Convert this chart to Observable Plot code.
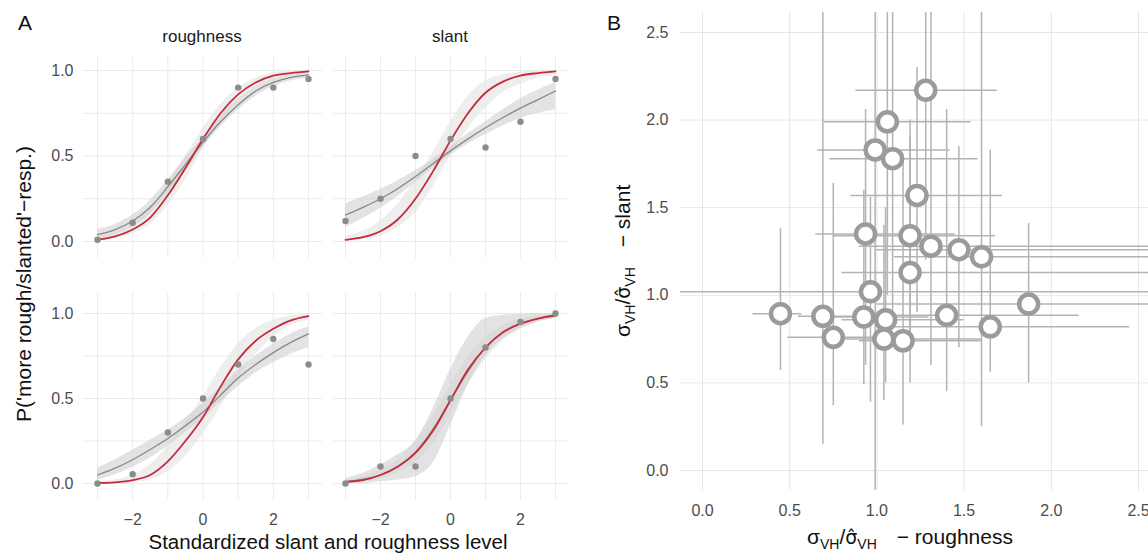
<!DOCTYPE html>
<html><head><meta charset="utf-8">
<script src="https://cdn.jsdelivr.net/npm/d3@7"></script>
<script src="https://cdn.jsdelivr.net/npm/@observablehq/plot@0.6"></script>
<style>
html,body{margin:0;padding:0;background:#fff;overflow:hidden;}
#root{position:relative;width:1148px;height:554px;}
#root svg{position:absolute;left:0;top:0;}
</style></head><body><div id="root"></div>
<script>
// ---------- Panel A data ----------
const curveX = [-3,-2.5,-2,-1.5,-1,-0.5,0,0.5,1,1.5,2,2.5,3];
const levels = [-3,-2,-1,0,1,2,3];
const xTicksA = [-2,0,2];
const xGridA = [-3,-2,-1,0,1,2,3];
const yTicksA = [0,0.5,1];
const yGridA = [0,0.25,0.5,0.75,1];
const facetLabels = ["roughness","slant"];

// top-left: roughness, row 1
const obsR1 = [0.01,0.11,0.35,0.60,0.90,0.90,0.95];
const redR1 = [0.01,0.03,0.07,0.14,0.27,0.43,0.60,0.75,0.86,0.93,0.97,0.985,0.995];
const grayR1 = [0.04,0.07,0.12,0.20,0.32,0.45,0.58,0.70,0.80,0.88,0.93,0.96,0.975];
const grayLoR1 = [0.015,0.04,0.085,0.16,0.28,0.41,0.55,0.67,0.77,0.85,0.905,0.94,0.955];
const grayHiR1 = [0.07,0.10,0.155,0.24,0.36,0.49,0.61,0.73,0.83,0.905,0.95,0.975,0.99];
const redLoR1 = [0.0,0.015,0.045,0.10,0.21,0.36,0.54,0.70,0.82,0.90,0.95,0.975,0.99];
const redHiR1 = [0.025,0.05,0.10,0.19,0.33,0.50,0.66,0.80,0.90,0.955,0.985,0.995,1.0];

// top-right: slant, row 1
const obsS1 = [0.12,0.25,0.50,0.60,0.55,0.70,0.95];
const redS1 = [0.01,0.025,0.06,0.13,0.25,0.41,0.59,0.75,0.87,0.935,0.97,0.985,0.995];
const grayS1 = [0.155,0.20,0.25,0.31,0.38,0.455,0.53,0.60,0.665,0.725,0.78,0.83,0.88];
const grayLoS1 = [0.08,0.135,0.195,0.265,0.345,0.43,0.505,0.57,0.625,0.675,0.72,0.75,0.77];
const grayHiS1 = [0.22,0.26,0.305,0.355,0.415,0.48,0.555,0.63,0.70,0.77,0.835,0.885,0.93];
const redLoS1 = [0.0,0.01,0.03,0.08,0.17,0.32,0.50,0.66,0.78,0.87,0.92,0.955,0.975];
const redHiS1 = [0.03,0.06,0.12,0.22,0.36,0.52,0.70,0.85,0.94,0.975,0.99,1.0,1.0];

// bottom-left: roughness, row 2
const obsR2 = [0.0,0.055,0.30,0.50,0.70,0.85,0.70];
const redR2 = [0.003,0.007,0.02,0.05,0.13,0.25,0.39,0.57,0.73,0.84,0.91,0.96,0.985];
const grayR2 = [0.05,0.09,0.14,0.20,0.265,0.34,0.42,0.52,0.62,0.70,0.77,0.83,0.88];
const grayLoR2 = [0.02,0.05,0.095,0.15,0.22,0.30,0.38,0.48,0.57,0.65,0.71,0.76,0.80];
const grayHiR2 = [0.09,0.14,0.195,0.255,0.315,0.385,0.47,0.565,0.665,0.75,0.82,0.88,0.92];
const redLoR2 = [0.0,0.0,0.005,0.02,0.07,0.16,0.29,0.45,0.62,0.76,0.86,0.93,0.96];
const redHiR2 = [0.01,0.02,0.05,0.11,0.22,0.36,0.51,0.68,0.82,0.91,0.96,0.985,0.995];

// bottom-right: slant, row 2
const obsS2 = [0.0,0.10,0.10,0.50,0.80,0.95,1.0];
const redS2 = [0.01,0.02,0.05,0.10,0.18,0.31,0.49,0.67,0.80,0.89,0.94,0.97,0.99];
const grayS2 = [0.01,0.025,0.05,0.10,0.185,0.32,0.49,0.66,0.80,0.89,0.94,0.97,0.985];
const grayLoS2 = [0.0,0.0,0.01,0.02,0.04,0.12,0.34,0.58,0.75,0.85,0.91,0.95,0.97];
const grayHiS2 = [0.03,0.06,0.11,0.17,0.25,0.44,0.67,0.86,0.97,0.99,0.995,1.0,1.0];
const redLoS2 = [0.0,0.01,0.03,0.065,0.12,0.23,0.40,0.58,0.73,0.84,0.91,0.95,0.975];
const redHiS2 = [0.02,0.04,0.08,0.14,0.25,0.40,0.58,0.75,0.86,0.93,0.965,0.985,0.995];

// ---------- Panel B data ----------
const ticksB = [0,0.5,1,1.5,2,2.5];
const roughRatio = [1.28,1.06,0.99,1.09,1.23,0.935,1.19,1.31,1.47,1.60,1.19,0.963,1.87,0.447,0.69,0.925,1.05,1.40,0.75,1.04,1.15,1.65];
const slantRatio = [2.17,1.99,1.83,1.78,1.57,1.35,1.34,1.28,1.26,1.22,1.13,1.02,0.95,0.895,0.88,0.876,0.86,0.886,0.76,0.75,0.74,0.82];
const roughLo = [0.88,0.70,0.66,0.73,0.85,0.65,0.75,0.90,1.00,1.10,0.80,-0.20,1.00,0.29,0.55,0.75,0.80,1.00,0.49,0.80,0.90,1.10];
const roughHi = [1.69,1.54,1.42,1.58,1.72,1.45,1.68,2.80,2.80,2.80,2.80,2.80,2.80,0.57,1.00,1.30,1.50,2.16,1.10,1.60,1.60,2.45];
const slantLo = [1.20,1.00,-0.20,0.90,0.90,0.60,0.70,0.60,0.70,0.25,0.50,0.39,0.50,0.57,0.15,0.49,0.50,0.45,0.37,0.40,0.26,0.56];
const slantHi = [2.70,2.70,2.70,2.70,2.30,2.06,2.00,2.70,1.85,2.70,1.90,1.56,1.41,1.38,2.70,1.60,1.50,2.06,1.64,1.40,1.80,1.83];

// ---------- rendering ----------
const W = 1148, H = 554;
const FONT = '"Liberation Sans", Arial, Helvetica, sans-serif';
const root = document.getElementById("root");
const baseStyle = {background:"transparent", color:"#4d4d4d", fontFamily:FONT, overflow:"visible"};

function facetPlot(o) {
  const rows = curveX.map((x,i)=>({x, red:o.red[i], gray:o.gray[i], gLo:o.gLo[i], gHi:o.gHi[i], rLo:o.rLo[i], rHi:o.rHi[i]}));
  const pts = levels.map((x,i)=>({x, p:o.obs[i]}));
  const marks = [
    Plot.gridX(xGridA, {stroke:"#ebebeb", strokeOpacity:1, strokeWidth:1}),
    Plot.gridY(yGridA, {stroke:"#ebebeb", strokeOpacity:1, strokeWidth:1}),
    Plot.areaY(rows, {x:"x", y1:"rLo", y2:"rHi", fill:"#e2e2e2", fillOpacity:0.6, curve:"monotone-x"}),
    Plot.areaY(rows, {x:"x", y1:"gLo", y2:"gHi", fill:"#cccccc", fillOpacity:0.55, curve:"monotone-x"}),
    Plot.line(rows, {x:"x", y:"gray", stroke:"#888888", strokeWidth:1.3, curve:"monotone-x"}),
    Plot.line(rows, {x:"x", y:"red", stroke:"#c62b3b", strokeWidth:1.8, curve:"monotone-x"}),
    Plot.dot(pts, {x:"x", y:"p", r:3.2, fill:"#8c8c8c"})
  ];
  if (o.showY) marks.push(Plot.axisY(yTicksA, {tickSize:0, tickPadding:9, tickFormat:d3.format(".1f"), fontSize:16, label:null}));
  if (o.showX) marks.push(Plot.axisX(xTicksA, {tickSize:0, tickPadding:13, fontSize:16, label:null}));
  return Plot.plot({
    width:W, height:H,
    marginLeft:o.frame[0], marginRight:W-o.frame[1], marginTop:o.frame[2], marginBottom:H-o.frame[3],
    x:{domain:[-3,3], range:o.xr, axis:null},
    y:{domain:[0,1], range:o.yr, axis:null},
    style:baseStyle,
    marks
  });
}

root.append(facetPlot({frame:[82,322,55,258], xr:[97,308], yr:[241,70], showY:true, showX:false,
  obs:obsR1, red:redR1, gray:grayR1, gLo:grayLoR1, gHi:grayHiR1, rLo:redLoR1, rHi:redHiR1}));
root.append(facetPlot({frame:[333,567,55,258], xr:[345,555], yr:[241,70], showY:false, showX:false,
  obs:obsS1, red:redS1, gray:grayS1, gLo:grayLoS1, gHi:grayHiS1, rLo:redLoS1, rHi:redHiS1}));
root.append(facetPlot({frame:[82,322,292,500], xr:[97,308], yr:[483,313], showY:true, showX:true,
  obs:obsR2, red:redR2, gray:grayR2, gLo:grayLoR2, gHi:grayHiR2, rLo:redLoR2, rHi:redHiR2}));
root.append(facetPlot({frame:[333,567,292,500], xr:[345,555], yr:[483,313], showY:false, showX:true,
  obs:obsS2, red:redS2, gray:grayS2, gLo:grayLoS2, gHi:grayHiS2, rLo:redLoS2, rHi:redHiS2}));

// Panel B
const dataB = roughRatio.map((r,i)=>({r, s:slantRatio[i], rLo:roughLo[i], rHi:roughHi[i], sLo:slantLo[i], sHi:slantHi[i]}));
root.append(Plot.plot({
  width:W, height:H,
  marginLeft:680, marginRight:0, marginTop:12, marginBottom:H-490,
  x:{domain:[0,2.5], range:[702,1138], axis:null},
  y:{domain:[0,2.5], range:[470,32], axis:null},
  style:baseStyle,
  marks:[
    Plot.gridX(ticksB, {stroke:"#e6e6e6", strokeOpacity:1, strokeWidth:1}),
    Plot.gridY(ticksB, {stroke:"#e6e6e6", strokeOpacity:1, strokeWidth:1}),
    Plot.ruleX(dataB, {x:"r", y1:"sLo", y2:"sHi", stroke:"#b3b3b3", strokeWidth:1.5, clip:true}),
    Plot.ruleY(dataB, {y:"s", x1:"rLo", x2:"rHi", stroke:"#b3b3b3", strokeWidth:1.5, clip:true}),
    Plot.dot(dataB, {x:"r", y:"s", r:9.5, stroke:"#9b9b9b", strokeWidth:4.5, fill:"white"}),
    Plot.axisX(ticksB, {tickSize:0, tickPadding:14, fontSize:16, tickFormat:d3.format(".1f"), label:null}),
    Plot.axisY(ticksB, {tickSize:0, tickPadding:12, fontSize:16, tickFormat:d3.format(".1f"), label:null})
  ]
}));

// Labels overlay
const ov = d3.create("svg").attr("width", W).attr("height", H)
  .style("font-family", FONT);
const T = "#111";
ov.append("text").attr("x",18).attr("y",30).attr("font-size",21).attr("fill",T).text("A");
ov.append("text").attr("x",607).attr("y",30).attr("font-size",21).attr("fill",T).text("B");
ov.append("text").attr("x",202).attr("y",42).attr("font-size",17).attr("fill","#1a1a1a").attr("text-anchor","middle").text(facetLabels[0]);
ov.append("text").attr("x",450).attr("y",42).attr("font-size",17).attr("fill","#1a1a1a").attr("text-anchor","middle").text(facetLabels[1]);
ov.append("text").attr("x",328).attr("y",549).attr("font-size",20.5).attr("fill",T).attr("text-anchor","middle")
  .text("Standardized slant and roughness level");
ov.append("text").attr("transform","translate(31,284) rotate(-90)").attr("font-size",21).attr("fill",T).attr("text-anchor","middle")
  .text("P('more rough/slanted'\u2212resp.)");

function ratioTitle(sel, suffix) {
  sel.append("tspan").text("\u03C3");
  sel.append("tspan").attr("font-size",14).attr("dy",5).text("VH");
  sel.append("tspan").attr("dy",-5).text("/");
  sel.append("tspan").attr("font-family","DejaVu Sans").attr("font-size",19).text("\u03C3\u0302");
  sel.append("tspan").attr("font-size",14).attr("dy",5).text("VH");
  sel.append("tspan").attr("dy",-5).attr("dx",20).text("\u2212 " + suffix);
}
ratioTitle(ov.append("text").attr("x",807).attr("y",544).attr("font-size",21).attr("fill",T), "roughness");
ratioTitle(ov.append("text").attr("transform","translate(630,337) rotate(-90)").attr("font-size",21).attr("fill",T), "slant");
root.append(ov.node());
</script></body></html>
